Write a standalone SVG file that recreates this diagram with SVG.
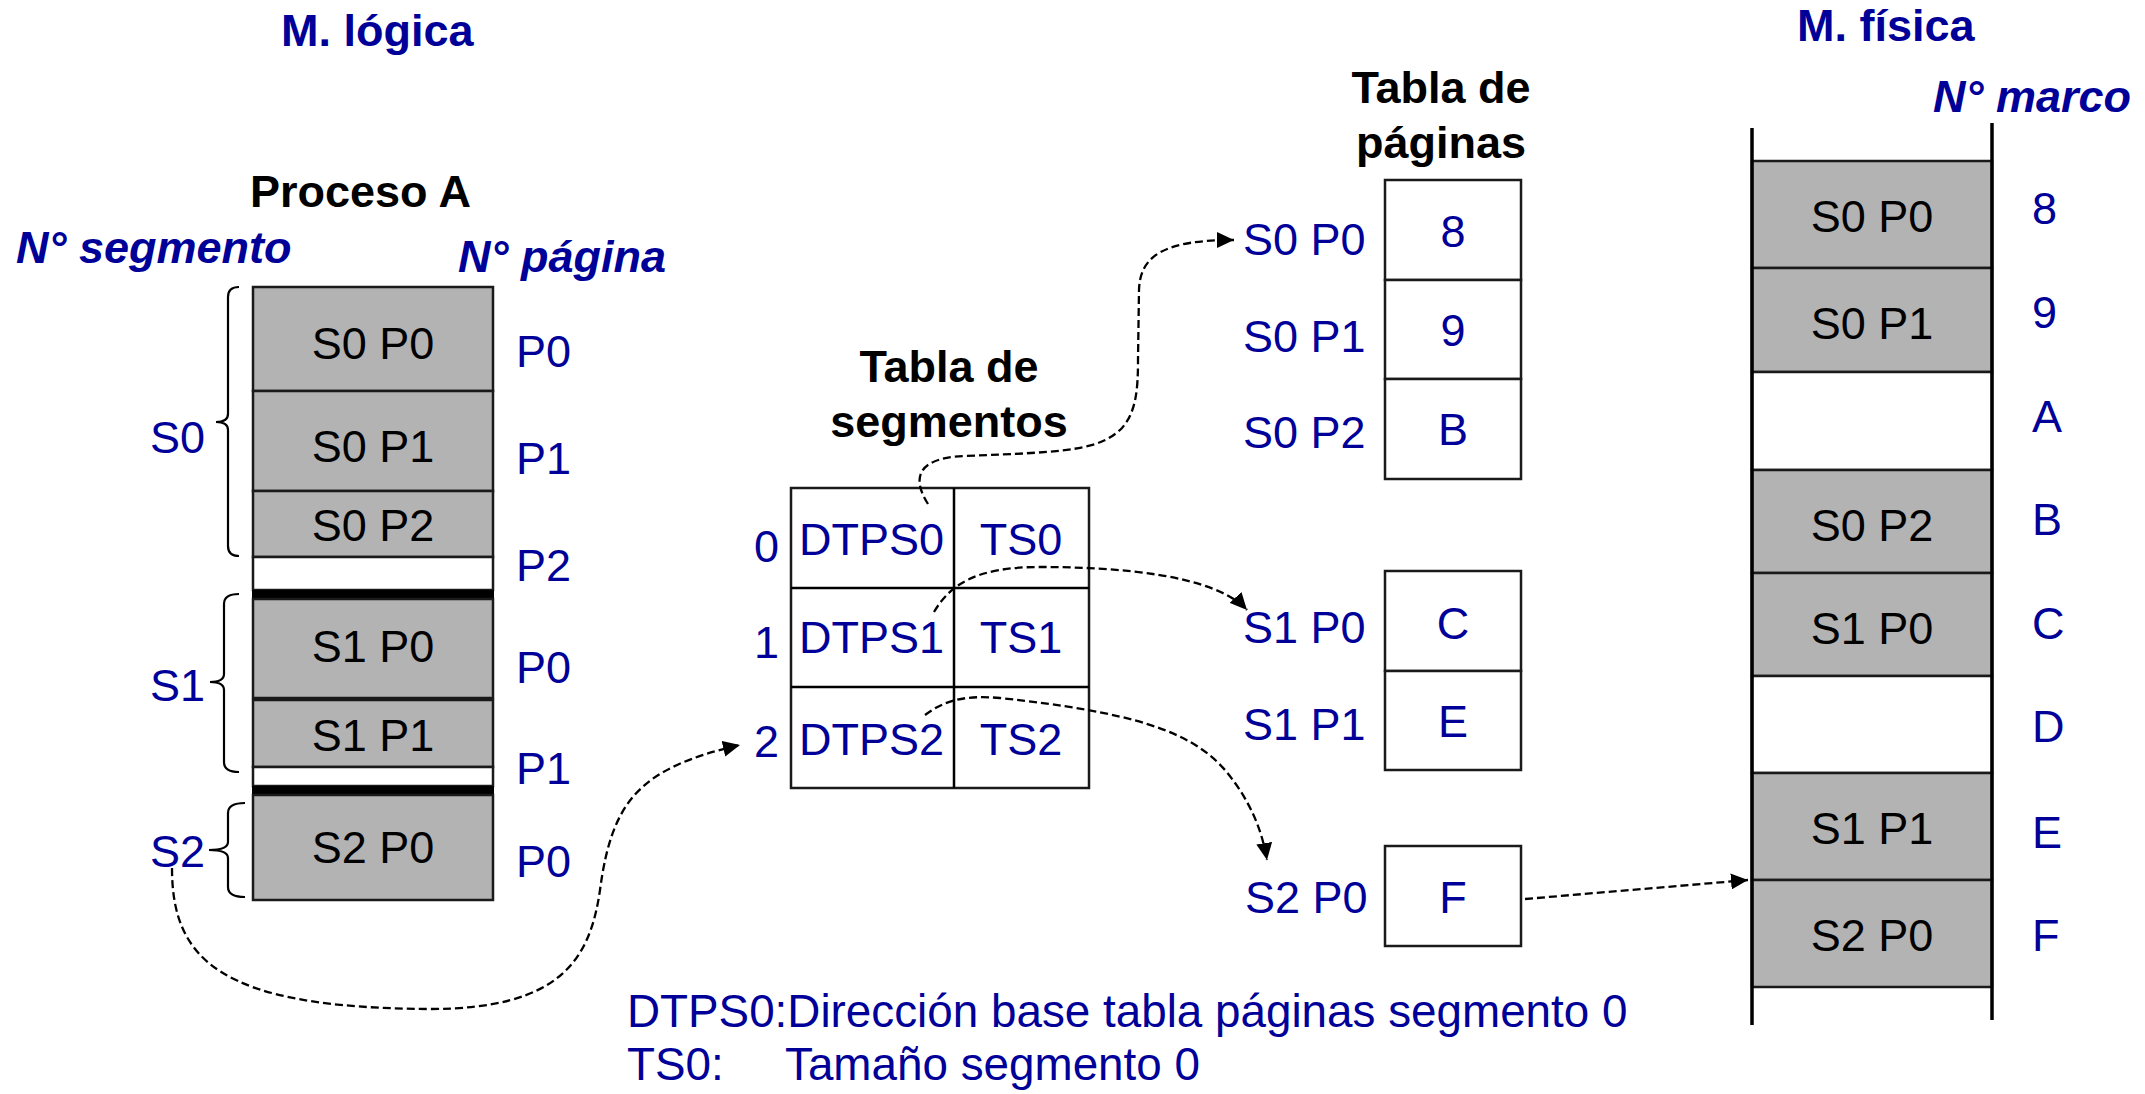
<svg xmlns="http://www.w3.org/2000/svg" width="2145" height="1094" viewBox="0 0 2145 1094">
<style>
text{font-family:"Liberation Sans",Arial,sans-serif;font-size:45px}
.b{fill:#000099}
.k{fill:#000000}
.t{font-weight:bold}
.bi{font-weight:bold;font-style:italic;fill:#000099}
.m{text-anchor:middle}
.lg{font-size:45.8px}
.g{fill:#b3b3b3;stroke:#1a1a1a;stroke-width:2.5}
.w{fill:#ffffff;stroke:#1a1a1a;stroke-width:2.5}
.br{fill:none;stroke:#000;stroke-width:2.2}
.c{fill:none;stroke:#000;stroke-width:2.3;stroke-dasharray:8 4}
</style>
<defs>
<marker id="ah" viewBox="0 0 17 16" refX="17" refY="8" markerWidth="17" markerHeight="16" markerUnits="userSpaceOnUse" orient="auto">
<path d="M0,0 L17,8 L0,16 z" fill="#000"/>
</marker>
</defs>

<g id="titles">
<text class="t b" x="281" y="46">M. lógica</text>
<text class="t k" x="250" y="207">Proceso A</text>
<text class="bi" x="16" y="263">N° segmento</text>
<text class="bi" x="458" y="272">N° página</text>
<text class="t k m" x="949" y="382">Tabla de</text>
<text class="t k m" x="949" y="437">segmentos</text>
<text class="t k m" x="1441" y="103">Tabla de</text>
<text class="t k m" x="1441" y="158">páginas</text>
<text class="t b" x="1797" y="41">M. física</text>
<text class="bi" x="1933" y="112">N° marco</text>
</g>

<g id="proceso-a">
<rect class="g" x="253" y="287" width="240" height="104"/>
<rect class="g" x="253" y="391" width="240" height="100"/>
<rect class="g" x="253" y="491" width="240" height="66"/>
<rect class="w" x="253" y="557" width="240" height="33"/>
<rect x="252" y="590" width="242" height="9" fill="#000"/>
<rect class="g" x="253" y="599" width="240" height="99"/>
<rect class="g" x="253" y="700" width="240" height="67"/>
<rect class="w" x="253" y="767" width="240" height="19"/>
<rect x="252" y="786" width="242" height="9" fill="#000"/>
<rect class="g" x="253" y="795" width="240" height="105"/>
<text class="k m" x="373" y="359">S0 P0</text>
<text class="k m" x="373" y="462">S0 P1</text>
<text class="k m" x="373" y="541">S0 P2</text>
<text class="k m" x="373" y="662">S1 P0</text>
<text class="k m" x="373" y="751">S1 P1</text>
<text class="k m" x="373" y="863">S2 P0</text>
<text class="b" x="516" y="367">P0</text>
<text class="b" x="516" y="474">P1</text>
<text class="b" x="516" y="581">P2</text>
<text class="b" x="516" y="683">P0</text>
<text class="b" x="516" y="784">P1</text>
<text class="b" x="516" y="877">P0</text>
</g>

<g id="segment-labels">
<path class="br" d="M239,287 Q228,287 228,297 L228,414 Q228,422 216,422 Q228,422 228,430 L228,546 Q228,556 239,556"/>
<path class="br" d="M239,594 Q224,594 224,604 L224,674 Q224,682 210,682 Q224,682 224,690 L224,762 Q224,772 239,772"/>
<path class="br" d="M245,803 Q228,803 228,813 L228,842 Q228,850 209,850 Q228,850 228,858 L228,887 Q228,897 245,897"/>
<text class="b" x="150" y="453">S0</text>
<text class="b" x="150" y="701">S1</text>
<text class="b" x="150" y="867">S2</text>
</g>

<g id="tabla-segmentos">
<rect class="w" x="791" y="488" width="298" height="300"/>
<line x1="954" y1="488" x2="954" y2="788" stroke="#000" stroke-width="2.5"/>
<line x1="791" y1="588" x2="1089" y2="588" stroke="#000" stroke-width="2.5"/>
<line x1="791" y1="687" x2="1089" y2="687" stroke="#000" stroke-width="2.5"/>
<text class="b" x="754" y="562">0</text>
<text class="b" x="754" y="658">1</text>
<text class="b" x="754" y="757">2</text>
<text class="b" x="799" y="555">DTPS0</text>
<text class="b" x="799" y="653">DTPS1</text>
<text class="b" x="799" y="755">DTPS2</text>
<text class="b m" x="1021" y="555">TS0</text>
<text class="b m" x="1021" y="653">TS1</text>
<text class="b m" x="1021" y="755">TS2</text>
</g>

<g id="tabla-paginas-s0">
<rect class="w" x="1385" y="180" width="136" height="100"/>
<rect class="w" x="1385" y="280" width="136" height="99"/>
<rect class="w" x="1385" y="379" width="136" height="100"/>
<text class="b m" x="1453" y="247">8</text>
<text class="b m" x="1453" y="346">9</text>
<text class="b m" x="1453" y="445">B</text>
<text class="b" x="1243" y="255">S0 P0</text>
<text class="b" x="1243" y="352">S0 P1</text>
<text class="b" x="1243" y="448">S0 P2</text>
</g>

<g id="tabla-paginas-s1">
<rect class="w" x="1385" y="571" width="136" height="100"/>
<rect class="w" x="1385" y="671" width="136" height="99"/>
<text class="b m" x="1453" y="639">C</text>
<text class="b m" x="1453" y="737">E</text>
<text class="b" x="1243" y="643">S1 P0</text>
<text class="b" x="1243" y="740">S1 P1</text>
</g>

<g id="tabla-paginas-s2">
<rect class="w" x="1385" y="846" width="136" height="100"/>
<text class="b m" x="1453" y="913">F</text>
<text class="b" x="1245" y="913">S2 P0</text>
</g>

<g id="memoria-fisica">
<rect class="g" x="1752" y="161" width="240" height="107"/>
<rect class="g" x="1752" y="268" width="240" height="104"/>
<rect class="w" x="1752" y="372" width="240" height="98"/>
<rect class="g" x="1752" y="470" width="240" height="103"/>
<rect class="g" x="1752" y="573" width="240" height="103"/>
<rect class="w" x="1752" y="676" width="240" height="97"/>
<rect class="g" x="1752" y="773" width="240" height="107"/>
<rect class="g" x="1752" y="880" width="240" height="107"/>
<line x1="1752" y1="128" x2="1752" y2="1025" stroke="#000" stroke-width="3.5"/>
<line x1="1992" y1="123" x2="1992" y2="1020" stroke="#000" stroke-width="3.5"/>
<text class="k m" x="1872" y="232">S0 P0</text>
<text class="k m" x="1872" y="339">S0 P1</text>
<text class="k m" x="1872" y="541">S0 P2</text>
<text class="k m" x="1872" y="644">S1 P0</text>
<text class="k m" x="1872" y="844">S1 P1</text>
<text class="k m" x="1872" y="951">S2 P0</text>
<text class="b" x="2032" y="224">8</text>
<text class="b" x="2032" y="328">9</text>
<text class="b" x="2032" y="432">A</text>
<text class="b" x="2032" y="535">B</text>
<text class="b" x="2032" y="639">C</text>
<text class="b" x="2032" y="742">D</text>
<text class="b" x="2032" y="848">E</text>
<text class="b" x="2032" y="951">F</text>
</g>

<g id="leyenda">
<text class="b lg" x="627" y="1027">DTPS0:Dirección base tabla páginas segmento 0</text>
<text class="b lg" x="627" y="1080">TS0:</text>
<text class="b lg" x="785" y="1080">Tamaño segmento 0</text>
</g>

<g id="connectors">
<path class="c" marker-end="url(#ah)" d="M172,868 C172,960 220,1008 430,1009 C560,1009 590,960 600,890 C612,800 640,768 740,745"/>
<path class="c" marker-end="url(#ah)" d="M928,504 C914,482 912,458 965,456 C1070,452 1100,450 1122,428 C1136,412 1138,390 1138,360 L1139,290 C1140,255 1165,240 1234,240"/>
<path class="c" marker-end="url(#ah)" d="M934,612 C950,585 975,567 1040,567 C1120,567 1215,575 1247,610"/>
<path class="c" marker-end="url(#ah)" d="M925,715 C945,700 965,695 1000,698 C1130,712 1190,730 1225,770 C1250,800 1262,830 1267,860"/>
<path class="c" marker-end="url(#ah)" d="M1525,899 L1748,880"/>
</g>
</svg>
